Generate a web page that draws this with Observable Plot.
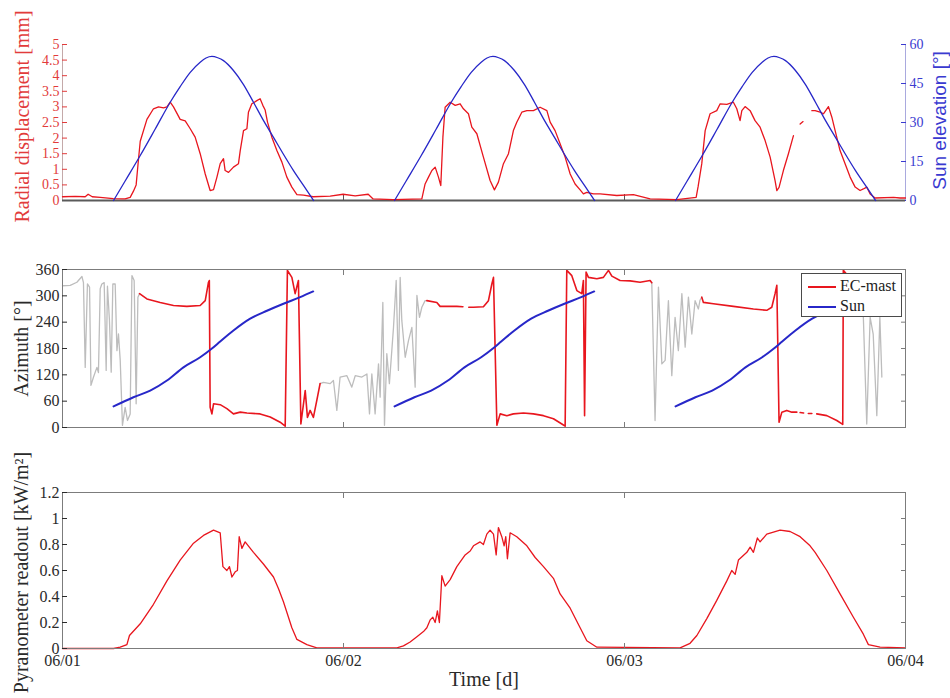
<!DOCTYPE html>
<html>
<head>
<meta charset="utf-8">
<script src="https://cdn.jsdelivr.net/npm/d3@7"></script>
<script src="https://cdn.jsdelivr.net/npm/@observablehq/plot@0.6"></script>
<style>
  html, body { margin: 0; padding: 0; background: #fff; }
  #wrap { position: relative; width: 950px; height: 698px; overflow: hidden; font-family: "Liberation Serif", "Times New Roman", serif; }
  #legend { position: absolute; left: 801px; top: 273px; width: 101px; height: 44px; border: 1px solid #4a4a4a; background: #fff; box-sizing: border-box; font-size: 16px; color: #222; }
  #legend .row { position: absolute; left: 0; height: 20px; line-height: 20px; }
  #legend .sw { position: absolute; left: 6px; width: 28px; height: 0; border-top: 2px solid; top: 10px; }
  #legend .lab { position: absolute; left: 38px; top: 0; white-space: nowrap; }
</style>
</head>
<body>
<div id="wrap"></div>
<script>
// ---------- data (time in hours from 06/01 00:00) ----------
const dayTickHours = [0, 24, 48, 72];
const dayLabels = ["06/01", "06/02", "06/03", "06/04"];
const innerDayTicks = [24, 48];

const dispTicks = [0, 0.5, 1, 1.5, 2, 2.5, 3, 3.5, 4, 4.5, 5];
const elevTicksDeg = [0, 15, 30, 45, 60];
const azTicks = [0, 60, 120, 180, 240, 300, 360];
const pyrTicks = [0, 0.2, 0.4, 0.6, 0.8, 1, 1.2];

const dispTitle = "Radial displacement [mm]";
const elevTitle = "Sun elevation [°]";
const azTitle = "Azimuth [°]";
const pyrTitle = "Pyranometer readout [kW/m²]";
const timeTitle = "Time [d]";
const legendNames = ["EC-mast", "Sun"];

// Radial displacement [mm]
const dispHours = [0,1.08,1.94,2.19,2.54,3.22,4.33,5.35,5.78,6.06,
  6.29,6.46,6.64,7.21,7.77,8.20,8.63,8.92,9.20,9.48,
  10.05,10.48,10.91,11.33,11.76,12.19,12.61,12.90,13.19,13.47,
  13.75,13.89,14.18,14.60,15.03,15.18,15.46,15.75,15.88,16.17,
  16.60,16.88,17.11,17.31,17.51,17.88,18.31,18.74,19.16,19.59,
  20.02,20.58,21.41,22.86,23.97,25.0,26.11,26.53,28.24,30.69,
  30.97,31.26,31.55,31.83,32.11,32.31,32.49,32.68,33.11,33.54,
  33.96,34.24,34.67,34.96,35.39,35.95,36.52,36.89,37.23,37.66,
  38.09,38.51,38.80,39.23,39.66,40.22,40.79,41.37,41.65,42.07,
  42.50,42.93,43.36,43.78,44.21,44.49,44.78,45.35,45.92,47.34,
  48.76,50.19,52.47,54.12,54.29,54.60,54.89,55.31,55.88,56.17,
  56.74,57.30,57.59,57.87,58.02,58.30,58.73,59.15,59.58,60.01,
  60.44,60.86,61.01,61.20,61.57,62.0,62.43,62.7,63.0,63.25,
  63.6,64.0,64.28,64.71,64.99,65.42,65.71,65.99,66.41,66.84,
  67.27,67.70,68.12,68.40,68.69,68.98,69.40,70.97,71.54,72];
const dispMm = [0.12,0.13,0.12,0.2,0.12,0.1,0.06,0.05,0.1,0.3,
  0.5,1.2,1.9,2.6,2.94,3.0,2.97,3.0,3.15,3.0,
  2.6,2.55,2.3,2.03,1.5,0.85,0.32,0.35,0.75,1.18,
  1.34,0.96,0.9,1.07,1.18,1.6,2.24,2.3,2.83,3.1,
  3.2,3.26,3.05,2.9,2.51,2.03,1.6,1.23,0.75,0.43,
  0.19,0.17,0.12,0.14,0.2,0.15,0.2,0.05,0.03,0.05,
  0.53,0.75,0.96,1.07,0.75,0.48,2.03,2.99,3.15,3.05,
  3.1,2.94,2.78,2.35,2.14,1.39,0.64,0.34,0.59,1.18,
  1.5,2.24,2.51,2.83,2.88,2.88,2.99,2.88,2.51,2.24,
  1.82,1.39,0.85,0.53,0.34,0.21,0.26,0.21,0.21,0.16,
  0.19,0.05,0.03,0.1,0.45,1.18,2.24,2.78,2.88,3.1,
  3.08,3.15,2.94,2.56,2.88,3.01,2.88,2.56,2.35,1.92,
  1.39,0.64,0.32,0.42,0.96,1.5,2.08,null,2.45,2.53,
  null,2.88,2.88,2.83,2.78,3.01,2.67,2.24,1.6,1.18,
  0.75,0.43,0.32,0.37,0.43,0.21,0.08,0.1,0.08,0.08];

// Sun elevation [deg]
const sunElevHoursDay1 = [4.36,5.35,6.64,7.92,9.20,10.05,10.91,11.76,12.26,12.76,13.26,13.75,14.60,15.46,16.31,17.16,18.02,18.87,19.73,20.58,21.45];
const sunElevHoursDay2 = [28.36,29.35,30.64,31.92,33.20,34.05,34.91,35.76,36.26,36.76,37.26,37.75,38.60,39.46,40.31,41.16,42.02,42.87,43.73,44.58,45.45];
const sunElevHoursDay3 = [52.36,53.35,54.64,55.92,57.20,58.05,58.91,59.76,60.26,60.76,61.26,61.75,62.60,63.46,64.31,65.16,66.02,66.87,67.73,68.58,69.45];
const sunElevDeg = [0,7.5,17.3,27.5,37.8,43.8,49.3,53.2,54.8,55.4,54.9,53.8,50,44.6,37.8,30.8,24.3,17.8,11.5,5.8,0];

// Sun azimuth [deg]
const sunAzHoursDay1 = [4.36,6.06,7.49,8.92,10.33,11.76,12.76,13.47,14.60,16.03,17.46,18.87,20.30,21.41];
const sunAzHoursDay2 = [28.36,30.06,31.49,32.92,34.33,35.76,36.76,37.47,38.60,40.03,41.46,42.87,44.30,45.41];
const sunAzHoursDay3 = [52.36,54.06,55.49,56.92,58.33,59.76,60.76,61.47,62.60,64.03,65.46,66.87,68.30,69.41];
const sunAzDeg = [48,69,84,107,137,160,180,196,221,248,266,282,297,310];

// EC-mast azimuth, in sector (red) [deg]; null = gap
const ecHours = [6.58,7.21,8.34,9.48,10.62,11.76,12.19,12.47,12.54,12.61,12.76,12.90,13.47,14.04,14.60,15.18,15.75,16.88,17.74,18.59,19.02,19.21,19.59,19.87,20.15,20.36,20.73,20.92,21.15,21.43,21.72,22.0,22.01,
  31.12,31.97,32.25,32.83,33.68,34.2,34.3,34.7,35.10,35.95,36.38,36.67,36.81,37.10,37.38,37.95,38.51,39.37,40.22,41.08,41.93,42.65,42.93,43.07,43.50,43.93,44.35,44.49,44.59,44.72,44.92,45.64,46.20,46.63,46.92,47.62,48.48,49.33,50.19,50.33,50.34,
  54.60,54.74,55.59,57.30,59.01,60.15,60.58,60.86,61.01,61.20,61.44,61.86,62.29,62.72,62.73,63.0,63.3,63.31,63.7,64.0,64.01,64.42,65.28,66.13,66.64,66.69,67.10,67.78];
const ecDeg = [305,293,285,278,276,278,289,331,335,46,31,54,52,43,31,35,33,31,24,12,3,358,342,305,335,8,84,23,39,23,62,100,null,
  289,285,276,276,276,275,null,274,274,275,289,327,342,5,31,27,31,33,31,27,20,8,3,358,346,312,305,335,27,354,342,339,342,358,345,335,334,331,335,330,null,
  297,285,282,276,270,267,274,305,324,12,35,39,35,35,null,34,33,null,32,32,null,31,27,16,7,358,345,335];

// EC-mast azimuth, out of sector (gray) [deg]; null = gap
const grayHours = [0,0.66,1.23,1.66,1.79,1.94,2.13,2.31,2.43,2.65,2.94,3.07,3.22,3.36,3.56,3.73,3.84,4.01,4.16,4.30,4.50,4.65,4.78,4.93,5.12,5.35,5.55,5.78,5.93,6.12,6.29,6.44,6.58,6.59,
  22.0,22.29,22.86,23.14,23.43,23.71,24.29,24.71,25.0,25.57,26.0,26.22,26.42,26.70,26.99,27.13,27.36,27.50,27.70,27.92,28.27,28.50,28.69,28.84,28.98,29.27,29.55,29.84,30.12,30.27,30.49,30.69,30.97,31.12,31.13,
  50.33,50.61,50.90,51.19,51.47,51.75,52.04,52.32,52.60,52.90,53.18,53.46,53.75,54.03,54.31,54.45,54.60,54.61,
  67.95,68.2,68.40,68.69,68.98,69.24,69.55,69.81,69.98];
const grayDeg = [323,324,331,344,330,137,327,320,96,115,137,125,316,327,330,130,322,244,126,327,327,175,213,153,5,46,16,31,346,335,54,297,305,null,
  100,103,100,107,39,115,118,92,118,115,122,31,122,31,145,69,285,5,168,100,228,335,130,342,244,160,198,228,92,301,251,274,289,289,null,
  330,16,320,145,153,289,118,251,175,305,183,297,213,289,270,290,297,null,
  330,320,251,8,251,213,27,251,115];

// Pyranometer [kW/m2]
const pyrHours = [0,4.36,4.93,5.50,5.72,6.64,7.77,8.92,10.05,11.19,
  12.04,12.90,13.47,13.70,14.04,14.26,14.47,14.75,14.94,15.09,
  15.32,15.60,16.31,17.16,18.02,18.45,18.87,19.59,20.02,20.87,
  21.72,28.56,29.12,29.69,30.27,30.83,31.12,31.40,31.63,31.83,
  32.02,32.19,32.40,32.68,33.11,33.68,34.39,34.82,35.10,35.67,
  35.95,36.24,36.52,36.81,37.04,37.23,37.52,37.72,37.86,38.0,
  38.23,38.80,39.66,40.37,41.08,41.93,42.50,43.36,44.21,44.78,
  45.64,52.75,53.60,54.18,55.03,55.88,56.74,57.16,57.45,57.73,
  58.45,58.73,59.01,59.35,59.58,60.15,61.29,62.14,63.0,63.85,
  64.28,65.28,66.41,67.55,68.40,68.83,69.83,72];
const pyrKW = [0,0,0.01,0.03,0.1,0.19,0.34,0.52,0.68,0.81,
  0.87,0.91,0.89,0.63,0.60,0.63,0.55,0.59,0.60,0.86,
  0.77,0.82,0.74,0.65,0.55,0.46,0.36,0.16,0.07,0.03,
  0.005,0.005,0.02,0.05,0.09,0.13,0.16,0.22,0.24,0.2,
  0.29,0.2,0.56,0.48,0.53,0.63,0.72,0.75,0.79,0.82,
  0.80,0.88,0.91,0.88,0.72,0.93,0.86,0.79,0.86,0.69,
  0.89,0.86,0.79,0.70,0.63,0.54,0.42,0.31,0.16,0.06,
  0.01,0.005,0.04,0.1,0.23,0.37,0.52,0.60,0.57,0.68,
  0.74,0.78,0.74,0.85,0.82,0.88,0.91,0.90,0.86,0.79,
  0.74,0.60,0.42,0.24,0.11,0.03,0.01,0.005];

// ---------- tables ----------
const rows = (hs, vs, day) => hs.map((t, i) => ({t, v: vs[i], day}));
const dispRows = rows(dispHours, dispMm, 0);
const sunElevRows = [
  ...rows(sunElevHoursDay1, sunElevDeg, 1),
  ...rows(sunElevHoursDay2, sunElevDeg, 2),
  ...rows(sunElevHoursDay3, sunElevDeg, 3)];
const sunAzRows = [
  ...rows(sunAzHoursDay1, sunAzDeg, 1),
  ...rows(sunAzHoursDay2, sunAzDeg, 2),
  ...rows(sunAzHoursDay3, sunAzDeg, 3)];
const ecRows = rows(ecHours, ecDeg, 0);
const grayRows = rows(grayHours, grayDeg, 0);
const pyrRows = rows(pyrHours, pyrKW, 0);

// ---------- style ----------
const RED = "#e8161e", BLUE = "#2727c8", GRAY = "#bdbdbd", FRAME = "#7c7c7c", TXT = "#2a2a2a";
const RED_TXT = "#e23b3b", BLUE_TXT = "#3a3ad0";
const FONT = '"Liberation Serif", "Times New Roman", serif';
const SANS = '"Liberation Sans", Arial, sans-serif';
const W = 950, ML = 62, MR = 45;
const baseStyle = {fontFamily: FONT, background: "transparent", overflow: "visible"};
const wrap = document.getElementById("wrap");
function place(svg, top) {
  svg.style.position = "absolute";
  svg.style.left = "0px";
  svg.style.top = top + "px";
  wrap.appendChild(svg);
}
const titleOpts = {textAnchor: "middle", lineAnchor: "middle", rotate: -90, fontSize: 20, fontFamily: FONT};
const ax = {label: null, fontFamily: FONT, fontVariant: "normal"};

// ---------- panel 1: displacement + sun elevation ----------
const p1 = Plot.plot({
  width: W, height: 215, marginLeft: ML, marginRight: MR, marginTop: 44, marginBottom: 15,
  style: baseStyle,
  x: {domain: [0, 72]},
  y: {domain: [0, 5]},
  marks: [
    Plot.ruleX([0], {stroke: "#c4a9a9", strokeWidth: 1}),
    Plot.ruleX([72], {stroke: "#a9a9de", strokeWidth: 1}),
    Plot.axisY({...ax, anchor: "left", ticks: dispTicks, tickSize: -5, tickPadding: 8, color: RED_TXT, fontSize: 14, tickFormat: d => String(d)}),
    Plot.axisY({...ax, anchor: "right", ticks: elevTicksDeg.map(d => d / 12), tickSize: -5, tickPadding: 9, color: BLUE_TXT, fontSize: 14, tickFormat: d => String(Math.round(d * 12))}),
    Plot.axisX({...ax, anchor: "bottom", ticks: innerDayTicks, tickSize: -6, tickFormat: () => "", color: "#555"}),
    Plot.ruleY([0], {stroke: "#5a5a5a", strokeWidth: 2}),
    Plot.line(dispRows, {x: "t", y: "v", stroke: RED, strokeWidth: 1.3}),
    Plot.line(sunElevRows, {x: "t", y: d => d.v / 12, z: "day", stroke: BLUE, strokeWidth: 1.3, curve: "monotone-x"}),
    Plot.text([dispTitle], {...titleOpts, frameAnchor: "left", dx: -40, dy: -6, fill: RED_TXT}),
    Plot.text([elevTitle], {...titleOpts, frameAnchor: "right", dx: 34, dy: -2, fill: BLUE_TXT, fontFamily: SANS, fontSize: 19})
  ]
});
place(p1, 0);

// ---------- panel 2: azimuth ----------
const p2 = Plot.plot({
  width: W, height: 222, marginLeft: ML, marginRight: MR, marginTop: 54, marginBottom: 10,
  style: baseStyle,
  x: {domain: [0, 72]},
  y: {domain: [0, 360]},
  marks: [
    Plot.line(grayRows, {x: "t", y: "v", stroke: GRAY, strokeWidth: 1.3}),
    Plot.line(ecRows, {x: "t", y: "v", stroke: RED, strokeWidth: 1.6}),
    Plot.line(sunAzRows, {x: "t", y: "v", z: "day", stroke: BLUE, strokeWidth: 2, curve: "monotone-x"}),
    Plot.frame({stroke: FRAME}),
    Plot.axisY({...ax, anchor: "left", ticks: azTicks, tickSize: -5, tickPadding: 8, fontSize: 16, color: TXT, tickFormat: d => String(d)}),
    Plot.axisY({...ax, anchor: "right", ticks: azTicks, tickSize: -5, tickFormat: () => "", color: FRAME}),
    Plot.axisX({...ax, anchor: "top", ticks: innerDayTicks, tickSize: -5, tickFormat: () => "", color: FRAME}),
    Plot.axisX({...ax, anchor: "bottom", ticks: innerDayTicks, tickSize: -5, tickFormat: () => "", color: FRAME}),
    Plot.text([azTitle], {...titleOpts, frameAnchor: "left", dx: -41, fill: TXT})
  ]
});
place(p2, 215);

// ---------- panel 3: pyranometer ----------
const p3 = Plot.plot({
  width: W, height: 261, marginLeft: ML, marginRight: MR, marginTop: 55, marginBottom: 50,
  style: baseStyle,
  x: {domain: [0, 72]},
  y: {domain: [0, 1.2]},
  marks: [
    Plot.line(pyrRows, {x: "t", y: "v", stroke: RED, strokeWidth: 1.3}),
    Plot.frame({stroke: FRAME}),
    Plot.axisY({...ax, anchor: "left", ticks: pyrTicks, tickSize: -5, tickPadding: 8, fontSize: 16, color: TXT, tickFormat: d => String(d)}),
    Plot.axisY({...ax, anchor: "right", ticks: pyrTicks, tickSize: -5, tickFormat: () => "", color: FRAME}),
    Plot.axisX({...ax, anchor: "top", ticks: innerDayTicks, tickSize: -5, tickFormat: () => "", color: FRAME}),
    Plot.axisX({...ax, anchor: "bottom", ticks: innerDayTicks, tickSize: -5, tickFormat: () => "", color: FRAME}),
    Plot.axisX({...ax, anchor: "bottom", ticks: dayTickHours, tickSize: 0, tickPadding: 6, fontSize: 16, color: TXT, tickFormat: d => dayLabels[dayTickHours.indexOf(d)]}),
    Plot.text([pyrTitle], {...titleOpts, frameAnchor: "left", dx: -41, dy: 2, fill: TXT}),
    Plot.text([timeTitle], {frameAnchor: "bottom", textAnchor: "middle", lineAnchor: "middle", dy: 31, fontSize: 20, fontFamily: FONT, fill: TXT})
  ]
});
place(p3, 437);

// ---------- legend ----------
const legend = document.createElement("div");
legend.id = "legend";
[RED, BLUE].forEach((c, i) => {
  const row = document.createElement("div");
  row.className = "row";
  row.style.top = (i === 0 ? 2 : 22) + "px";
  row.style.width = "98px";
  const sw = document.createElement("div");
  sw.className = "sw";
  sw.style.borderTopColor = c;
  const lab = document.createElement("div");
  lab.className = "lab";
  lab.textContent = legendNames[i];
  row.appendChild(sw);
  row.appendChild(lab);
  legend.appendChild(row);
});
wrap.appendChild(legend);
</script>
</body>
</html>
